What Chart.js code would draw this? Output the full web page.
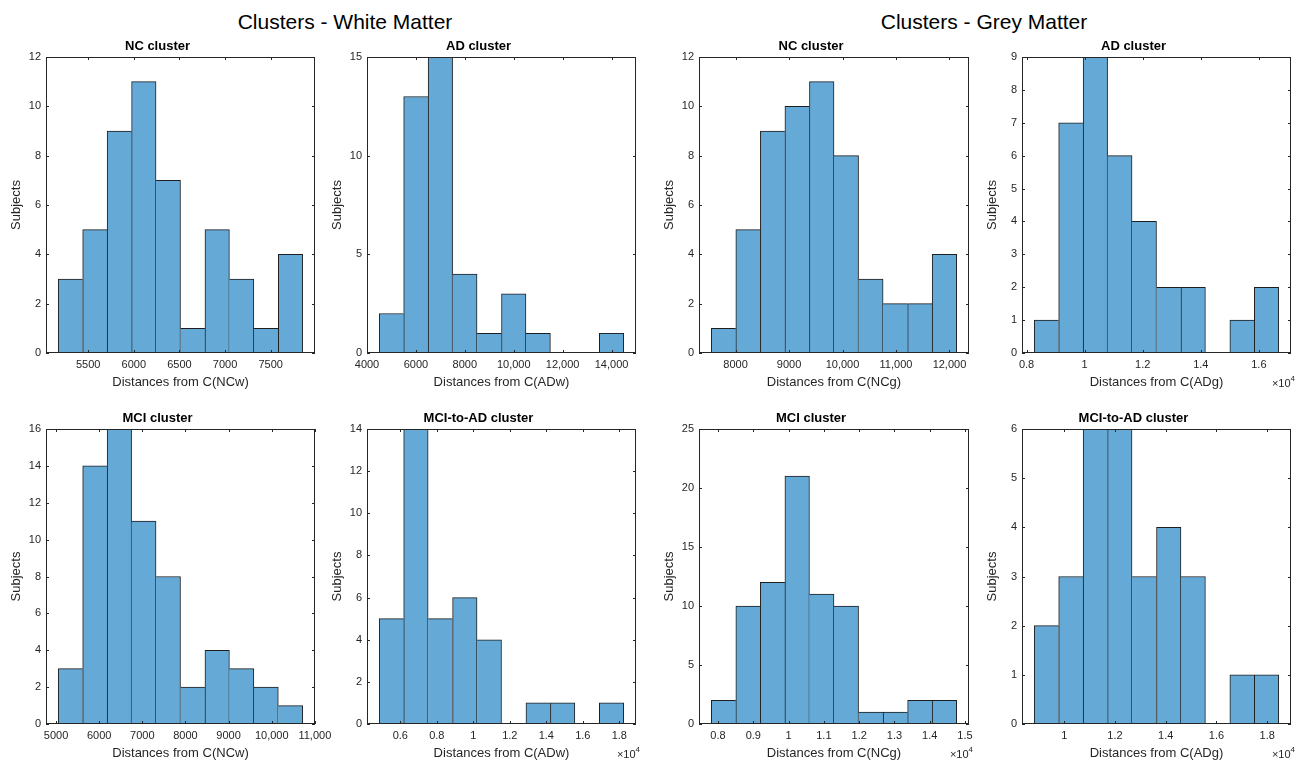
<!DOCTYPE html>
<html>
<head>
<meta charset="utf-8">
<title>Clusters - White Matter / Grey Matter</title>
<script src="https://cdn.jsdelivr.net/npm/chart.js@4.4.1/dist/chart.umd.min.js"></script>
<style>
  body { margin: 0; background: #fff; width: 1301px; height: 764px; position: relative; overflow: hidden;
         font-family: "Liberation Sans", Arial, Helvetica, sans-serif; }
  .head { position: absolute; top: 10px; font-size: 21px; line-height: 24px; color: #000;
          transform: translateX(-50%); white-space: nowrap; }
  canvas { position: absolute; }
</style>
</head>
<body>
<div class="head" style="left:345px">Clusters - White Matter</div>
<div class="head" style="left:984px">Clusters - Grey Matter</div>
<canvas id="ncW"></canvas>
<canvas id="adW"></canvas>
<canvas id="ncG"></canvas>
<canvas id="adG"></canvas>
<canvas id="mciW"></canvas>
<canvas id="convW"></canvas>
<canvas id="mciG"></canvas>
<canvas id="convG"></canvas>
<script>
// bin edges and counts
const ncWhiteEdges  = [5172, 5440, 5708, 5976, 6244, 6512, 6780, 7048, 7316, 7584, 7852];
const ncWhiteCounts = [3, 5, 9, 11, 7, 1, 5, 3, 1, 4];
const ncWhiteTicks  = [5500, 6000, 6500, 7000, 7500];

const adWhiteEdges  = [4500, 5500, 6500, 7500, 8500, 9500, 10500, 11500, 12500, 13500, 14500];
const adWhiteCounts = [2, 13, 15, 4, 1, 3, 1, 0, 0, 1];
const adWhiteTicks  = [4000, 6000, 8000, 10000, 12000, 14000];

const ncGreyEdges  = [7546, 8005, 8464, 8923, 9382, 9841, 10300, 10759, 11218, 11677, 12136];
const ncGreyCounts = [1, 5, 9, 10, 11, 8, 3, 2, 2, 4];
const ncGreyTicks  = [8000, 9000, 10000, 11000, 12000];

const adGreyEdges  = [8265, 9107, 9949, 10791, 11633, 12475, 13317, 14159, 15001, 15843, 16685];
const adGreyCounts = [1, 7, 9, 6, 4, 2, 2, 0, 1, 2];
const adGreyTicks  = [8000, 10000, 12000, 14000, 16000];

const mciWhiteEdges  = [5050, 5617, 6184, 6751, 7318, 7885, 8452, 9019, 9586, 10153, 10720];
const mciWhiteCounts = [3, 14, 16, 11, 8, 2, 4, 3, 2, 1];
const mciWhiteTicks  = [5000, 6000, 7000, 8000, 9000, 10000, 11000];

const convWhiteEdges  = [4845, 6185, 7525, 8865, 10205, 11545, 12885, 14225, 15565, 16905, 18245];
const convWhiteCounts = [5, 14, 5, 6, 4, 0, 1, 1, 0, 1];
const convWhiteTicks  = [6000, 8000, 10000, 12000, 14000, 16000, 18000];

const mciGreyEdges  = [7809, 8505, 9200, 9896, 10591, 11287, 11983, 12678, 13374, 14069, 14765];
const mciGreyCounts = [2, 10, 12, 21, 11, 10, 1, 1, 2, 2];
const mciGreyTicks  = [8000, 9000, 10000, 11000, 12000, 13000, 14000, 15000];

const convGreyEdges  = [8818, 9782, 10745, 11709, 12672, 13636, 14600, 15563, 16527, 17490, 18454];
const convGreyCounts = [2, 3, 6, 6, 3, 4, 3, 0, 1, 1];
const convGreyTicks  = [10000, 12000, 14000, 16000, 18000];

const FONT = '"Liberation Sans", Arial, Helvetica, sans-serif';
const INK = '#262626';

const panels = [
  { id: 'ncW',   title: 'NC cluster',        xTitle: 'Distances from C(NCw)', edges: ncWhiteEdges,   counts: ncWhiteCounts,   ticks: ncWhiteTicks,   yMax: 12, yStep: 2, exp: false },
  { id: 'adW',   title: 'AD cluster',        xTitle: 'Distances from C(ADw)', edges: adWhiteEdges,   counts: adWhiteCounts,   ticks: adWhiteTicks,   yMax: 15, yStep: 5, exp: false },
  { id: 'ncG',   title: 'NC cluster',        xTitle: 'Distances from C(NCg)', edges: ncGreyEdges,    counts: ncGreyCounts,    ticks: ncGreyTicks,    yMax: 12, yStep: 2, exp: false },
  { id: 'adG',   title: 'AD cluster',        xTitle: 'Distances from C(ADg)', edges: adGreyEdges,    counts: adGreyCounts,    ticks: adGreyTicks,    yMax: 9,  yStep: 1, exp: true },
  { id: 'mciW',  title: 'MCI cluster',       xTitle: 'Distances from C(NCw)', edges: mciWhiteEdges,  counts: mciWhiteCounts,  ticks: mciWhiteTicks,  yMax: 16, yStep: 2, exp: false },
  { id: 'convW', title: 'MCI-to-AD cluster', xTitle: 'Distances from C(ADw)', edges: convWhiteEdges, counts: convWhiteCounts, ticks: convWhiteTicks, yMax: 14, yStep: 2, exp: true },
  { id: 'mciG',  title: 'MCI cluster',       xTitle: 'Distances from C(NCg)', edges: mciGreyEdges,   counts: mciGreyCounts,   ticks: mciGreyTicks,   yMax: 25, yStep: 5, exp: true },
  { id: 'convG', title: 'MCI-to-AD cluster', xTitle: 'Distances from C(ADg)', edges: convGreyEdges,  counts: convGreyCounts,  ticks: convGreyTicks,  yMax: 6,  yStep: 1, exp: true }
];

// plot boxes on the page: left, top, right, bottom
const boxes = [
  [46, 57, 315, 353], [367, 57, 636, 353], [699, 57, 969, 353], [1022, 57, 1291, 353],
  [46, 429, 315, 724], [367, 429, 636, 724], [699, 429, 969, 724], [1022, 429, 1291, 724]
];

const TITLE_H = 23, Y_W = 46, X_H = 40, PAD_R = 24, PAD_B = 2;

// matlab style box with inward ticks, plus the x10^4 multiplier
const axesBox = {
  id: 'axesBox',
  afterDatasetsDraw(chart, args, opts) {
    const { ctx, chartArea: a, scales: { x, y } } = chart;
    ctx.save();
    ctx.strokeStyle = INK;
    ctx.lineWidth = 1;
    ctx.beginPath();
    x.ticks.forEach((t, i) => {
      const px = Math.round(x.getPixelForTick(i)) + 0.5;
      ctx.moveTo(px, a.bottom); ctx.lineTo(px, a.bottom - 3);
      ctx.moveTo(px, a.top); ctx.lineTo(px, a.top + 3);
    });
    y.ticks.forEach((t, i) => {
      const py = Math.round(y.getPixelForTick(i)) + 0.5;
      ctx.moveTo(a.left, py); ctx.lineTo(a.left + 3, py);
      ctx.moveTo(a.right, py); ctx.lineTo(a.right - 3, py);
    });
    ctx.stroke();
    ctx.strokeRect(a.left + 0.5, a.top + 0.5, a.right - a.left - 1, a.bottom - a.top - 1);
    if (opts.exp) {
      const base = a.bottom + 34;
      ctx.fillStyle = INK;
      ctx.textAlign = 'right';
      ctx.textBaseline = 'alphabetic';
      ctx.font = '8px ' + FONT;
      const w4 = ctx.measureText('4').width;
      ctx.fillText('4', a.right + 4, base - 6);
      ctx.font = '11px ' + FONT;
      ctx.fillText('\u00d710', a.right + 4 - w4, base);
    }
    ctx.restore();
  }
};

function tickText(v, exp) {
  if (exp) return String(Math.round(v / 1e4 * 100) / 100);
  return v >= 10000 ? v.toLocaleString('en-US') : String(v);
}

panels.forEach((p, k) => {
  const [l, t, r, b] = boxes[k];
  const cv = document.getElementById(p.id);
  cv.width = (r - l) + Y_W + PAD_R;
  cv.height = TITLE_H + (b - t) + X_H + PAD_B;
  cv.style.left = (l - Y_W) + 'px';
  cv.style.top = (t - TITLE_H) + 'px';

  const e = p.edges;
  const half = (e[1] - e[0]) / 2;
  const points = p.counts.map((c, i) => ({ x: (e[i] + e[i + 1]) / 2, y: c }));
  const counts = p.counts;

  new Chart(cv, {
    type: 'bar',
    data: {
      datasets: [{
        data: points,
        backgroundColor: '#65a9d7',
        borderColor: '#1e1e1e',
        borderWidth: (c) => {
          const i = c.dataIndex, cur = counts[i];
          const prev = counts[i - 1], next = counts[i + 1];
          return {
            top: 1, bottom: 0,
            left: (prev === undefined || prev <= cur) ? 1 : 0,
            right: (next === undefined || next < cur) ? 1 : 0
          };
        },
        borderSkipped: 'start',
        barPercentage: 1,
        categoryPercentage: 1
      }]
    },
    options: {
      responsive: false,
      animation: false,
      layout: { padding: { left: 0, top: 0, right: PAD_R, bottom: PAD_B } },
      plugins: {
        legend: { display: false },
        tooltip: { enabled: false },
        title: {
          display: true, text: p.title, color: '#000',
          font: { family: FONT, size: 13, weight: 'bold' },
          padding: { top: 4.4, bottom: 3 }
        },
        axesBox: { exp: p.exp }
      },
      scales: {
        x: {
          type: 'linear',
          offset: false,
          min: e[0] - half,
          max: e[e.length - 1] + half,
          afterBuildTicks: (s) => { s.ticks = p.ticks.map(v => ({ value: v })); },
          afterFit: (s) => { s.height = X_H; },
          grid: { display: false, drawTicks: false },
          border: { display: false },
          ticks: {
            autoSkip: false, maxRotation: 0, padding: 5, color: INK,
            font: { family: FONT, size: 11 },
            callback: (v) => tickText(v, p.exp)
          },
          title: {
            display: true, text: p.xTitle, color: INK,
            font: { family: FONT, size: 13 },
            padding: { top: 0, bottom: 3 }
          }
        },
        y: {
          min: 0,
          max: p.yMax,
          afterFit: (s) => { s.width = Y_W; },
          grid: { display: false, drawTicks: false },
          border: { display: false },
          ticks: {
            stepSize: p.yStep, padding: 5, color: INK,
            font: { family: FONT, size: 11 }
          },
          title: {
            display: true, text: 'Subjects', color: INK,
            font: { family: FONT, size: 13 },
            padding: { top: 9, bottom: 0 }
          }
        }
      }
    },
    plugins: [axesBox]
  });
});
</script>
</body>
</html>
